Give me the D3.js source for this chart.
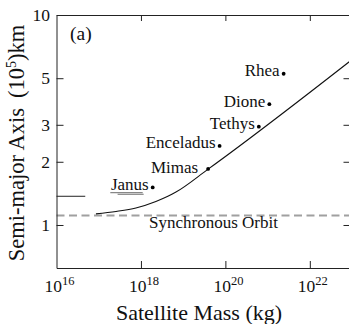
<!doctype html>
<html>
<head>
<meta charset="utf-8">
<title>Satellite mass vs semi-major axis</title>
<script src="https://cdn.jsdelivr.net/npm/d3@7"></script>
<style>
  html, body { margin: 0; padding: 0; background: #fff; }
  svg { display: block; }
  text { font-family: "Liberation Serif", "Times New Roman", serif; fill: #111; }
</style>
</head>
<body>
<div id="chart"></div>
<script>
// moons: mass (kg), semi-major axis (10^5 km)
var moonNames = ["Janus", "Mimas", "Enceladus", "Tethys", "Dione", "Rhea"]
var moonMass = [1.9e18, 3.9e19, 7.3e19, 6.2e20, 1.1e21, 2.4e21]
var moonAxis = [1.51, 1.85, 2.38, 2.94, 3.76, 5.25]

// theoretical curve
var curveMass = [8.6e16, 2.57e17, 7.6e17, 2.26e18, 4.34e18, 6.6e18, 3.97e19, 8.6e22]
var curveAxis = [1.13, 1.16, 1.205, 1.294, 1.37, 1.431, 1.85, 5.99]

var syncOrbit = 1.11

// little marks: ring edge at left, Janus / Epimetheus pair under the label
var edgeMark = { a: 1.37, m0: 1e16, m1: 4.8e16 }
var janusMarks = [
  { a: 1.425, m0: 1.88e17, m1: 1.1e18 },
  { a: 1.40, m0: 2.8e17, m1: 1.16e18 }
]

var xTicks = [1e16, 1e18, 1e20, 1e22]
var yTicks = [1, 2, 3, 5, 10]

var width = 349, height = 324
var plotLeft = 56.5, plotRight = 349.5, plotTop = 15, plotBottom = 268

var svg = d3.select("#chart").append("svg")
  .attr("width", width)
  .attr("height", height)

var x = d3.scaleLog().domain([1e16, Math.pow(10, 22.94)]).range([plotLeft, plotRight])
var y = d3.scaleLog().domain([0.624, 10]).range([plotBottom, plotTop])

// dashed synchronous orbit line
svg.append("line")
  .attr("x1", plotLeft).attr("x2", plotRight)
  .attr("y1", y(syncOrbit)).attr("y2", y(syncOrbit))
  .style("stroke", "#a0a0a0")
  .style("stroke-width", 2)
  .style("stroke-dasharray", "8,4.5")

svg.append("text")
  .attr("x", 149)
  .attr("y", y(syncOrbit) + 12.5)
  .style("font-size", "17px")
  .text("Synchronous Orbit")

// axes (ticks inward)
var axisColor = "#222"
function styleAxis(g) {
  g.select(".domain").style("stroke", axisColor)
  g.selectAll(".tick line").style("stroke", axisColor)
}

var gBottom = svg.append("g")
  .attr("transform", "translate(0," + plotBottom + ")")
  .call(d3.axisBottom(x).tickValues(xTicks).tickSizeInner(-7).tickSizeOuter(0).tickFormat(""))
  .call(styleAxis)

gBottom.selectAll(".tick text").remove()
gBottom.selectAll(".tick").each(function (d) {
  var t = d3.select(this).append("text")
    .attr("x", -12.5)
    .attr("y", 24)
    .attr("text-anchor", "start")
    .style("font-size", "17.5px")
  t.append("tspan").text("10")
  t.append("tspan").attr("dy", -7).style("font-size", "12.5px").text(Math.round(Math.log10(d)))
})
gBottom.selectAll(".tick").filter(function (d) { return d === 1e16 }).select("line").remove()

svg.append("g")
  .attr("transform", "translate(0," + plotTop + ")")
  .call(d3.axisTop(x).tickValues(xTicks.slice(1)).tickSizeInner(-6).tickSizeOuter(0).tickFormat(""))
  .call(styleAxis)

svg.append("g")
  .attr("transform", "translate(" + plotLeft + ",0)")
  .call(d3.axisLeft(y).tickValues(yTicks).tickSizeInner(-7).tickSizeOuter(0).tickPadding(6.5)
    .tickFormat(d3.format("d")))
  .call(styleAxis)
  .call(function (g) {
    g.selectAll(".tick text")
      .style("font-size", "17.5px")
      .style("font-family", "Liberation Serif, serif")
      .style("fill", "#111")
  })

svg.append("g")
  .attr("transform", "translate(" + plotRight + ",0)")
  .call(d3.axisRight(y).tickValues([1, 2, 3, 5]).tickSizeInner(-6).tickSizeOuter(0).tickFormat(""))
  .call(styleAxis)

// ring edge mark and Janus pair
svg.append("line")
  .attr("x1", x(edgeMark.m0)).attr("x2", x(edgeMark.m1))
  .attr("y1", y(edgeMark.a)).attr("y2", y(edgeMark.a))
  .style("stroke", "#222").style("stroke-width", 1)

svg.selectAll(".janus-mark")
  .data(janusMarks)
  .enter().append("line")
  .attr("class", "janus-mark")
  .attr("x1", function (d) { return x(d.m0) })
  .attr("x2", function (d) { return x(d.m1) })
  .attr("y1", function (d) { return y(d.a) })
  .attr("y2", function (d) { return y(d.a) })
  .style("stroke", "#888").style("stroke-width", 1.2)

// theory curve
var line = d3.line()
  .x(function (d) { return x(d[0]) })
  .y(function (d) { return y(d[1]) })
  .curve(d3.curveMonotoneX)

svg.append("path")
  .datum(d3.zip(curveMass, curveAxis))
  .attr("d", line)
  .style("fill", "none")
  .style("stroke", "#111")
  .style("stroke-width", 1.1)

// moons
var moons = moonNames.map(function (n, i) {
  return { name: n, m: moonMass[i], a: moonAxis[i] }
})
var labelShift = { Mimas: [-6, 2] }

svg.selectAll(".moon")
  .data(moons)
  .enter().append("circle")
  .attr("class", "moon")
  .attr("cx", function (d) { return x(d.m) })
  .attr("cy", function (d) { return y(d.a) })
  .attr("r", 1.9)
  .style("fill", "#000")

svg.selectAll(".moon-label")
  .data(moons)
  .enter().append("text")
  .attr("class", "moon-label")
  .attr("x", function (d) { return x(d.m) - 4 + (labelShift[d.name] ? labelShift[d.name][0] : 0) })
  .attr("y", function (d) { return y(d.a) + 2.3 + (labelShift[d.name] ? labelShift[d.name][1] : 0) })
  .attr("text-anchor", "end")
  .style("font-size", "17px")
  .text(function (d) { return d.name })

// panel label
svg.append("text")
  .attr("x", 70)
  .attr("y", 40)
  .style("font-size", "19.5px")
  .text("(a)")

// axis titles
svg.append("text")
  .attr("x", 199)
  .attr("y", 320)
  .attr("text-anchor", "middle")
  .style("font-size", "22px")
  .text("Satellite Mass (kg)")

var yl = svg.append("text")
  .attr("transform", "translate(24,143) rotate(-90)")
  .attr("text-anchor", "middle")
  .style("font-size", "22.5px")
yl.append("tspan").text("Semi-major Axis")
yl.append("tspan").attr("dx", 10).text("(10")
yl.append("tspan").attr("dy", -8).style("font-size", "14px").text("5")
yl.append("tspan").attr("dy", 8).text(")km")
</script>
</body>
</html>
